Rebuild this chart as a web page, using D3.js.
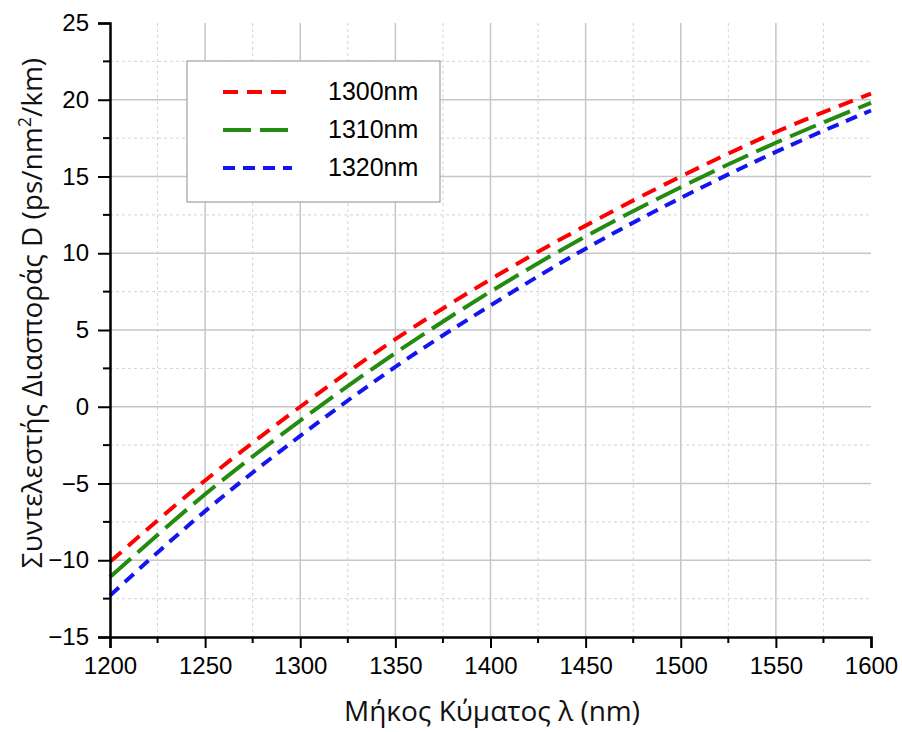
<html>
<head>
<meta charset="utf-8">
<style>
body { margin: 0; background: #fff; font-family: 'Liberation Sans', Arial, sans-serif; }
svg { display: block; }
.title { font-family: 'Open Sans', 'Noto Sans', sans-serif; font-size: 28px; fill: #111; }
</style>
</head>
<body>
<svg width="902" height="732"></svg>
<script src="https://d3js.org/d3.v7.min.js"></script>
<script>
// wavelengths (nm)
var lambda = [1200, 1250, 1300, 1350, 1400, 1450, 1500, 1550, 1600];
// dispersion for each zero-dispersion wavelength (ps/nm^2/km)
var d1300 = [-10.1, -4.8, 0.0, 4.4, 8.3, 11.8, 15.0, 17.9, 20.4];
var d1310 = [-11.1, -5.7, -0.9, 3.5, 7.5, 11.1, 14.3, 17.2, 19.8];
var d1320 = [-12.3, -6.8, -1.9, 2.6, 6.6, 10.3, 13.6, 16.6, 19.3];

var seriesNames = ["1300nm", "1310nm", "1320nm"];
var xTicks = [1200, 1250, 1300, 1350, 1400, 1450, 1500, 1550, 1600];
var yTicks = [-15, -10, -5, 0, 5, 10, 15, 20, 25];

var series = [
	{name: seriesNames[0], values: d1300, color: "#ff0000", dash: "15,9"},
	{name: seriesNames[1], values: d1310, color: "#228b10", dash: "28,9"},
	{name: seriesNames[2], values: d1320, color: "#1414f0", dash: "12,8"}
];

var svg = d3.select("svg");
var plotL = 110, plotR = 871, plotT = 23, plotB = 637;

var x = d3.scaleLinear().domain([1200, 1600]).range([plotL, plotR]);
var y = d3.scaleLinear().domain([-15, 25]).range([plotB, plotT]);

// grid: minor dashed, major solid
var minorX = d3.range(1225, 1600, 50);
var minorY = d3.range(-12.5, 25, 5);
var grid = svg.append("g");
grid.selectAll(".mx").data(minorX).enter().append("line")
	.attr("x1", d => x(d)).attr("x2", d => x(d)).attr("y1", plotT).attr("y2", plotB)
	.attr("stroke", "#d4d4d4").attr("stroke-dasharray", "3,3");
grid.selectAll(".my").data(minorY).enter().append("line")
	.attr("x1", plotL).attr("x2", plotR).attr("y1", d => y(d)).attr("y2", d => y(d))
	.attr("stroke", "#d4d4d4").attr("stroke-dasharray", "3,3");
grid.selectAll(".gx").data(xTicks.slice(1, -1)).enter().append("line")
	.attr("x1", d => x(d)).attr("x2", d => x(d)).attr("y1", plotT).attr("y2", plotB)
	.attr("stroke", "#c6c6c6").attr("stroke-width", 1.5);
grid.selectAll(".gy").data(yTicks.slice(1, -1)).enter().append("line")
	.attr("x1", plotL).attr("x2", plotR).attr("y1", d => y(d)).attr("y2", d => y(d))
	.attr("stroke", "#c6c6c6").attr("stroke-width", 1.5);

// curves
var line = d3.line()
	.x((d, i) => x(lambda[i]))
	.y(d => y(d))
	.curve(d3.curveMonotoneX);

svg.append("g").selectAll("path").data(series).enter().append("path")
	.attr("d", d => line(d.values))
	.attr("fill", "none")
	.attr("stroke", d => d.color)
	.attr("stroke-width", 4)
	.attr("stroke-dasharray", d => d.dash);

// axes
var xAxis = svg.append("g").attr("transform", "translate(0," + plotB + ")")
	.call(d3.axisBottom(x).tickValues(xTicks).tickFormat(d3.format("d")).tickSize(11).tickPadding(9));
var yAxis = svg.append("g").attr("transform", "translate(" + plotL + ",0)")
	.call(d3.axisLeft(y).tickValues(yTicks).tickSize(12).tickPadding(9));

// minor ticks
xAxis.selectAll(".minor").data(minorX).enter().append("line")
	.attr("x1", d => x(d)).attr("x2", d => x(d)).attr("y1", 0).attr("y2", 6)
	.attr("stroke", "#000").attr("stroke-width", 2);
yAxis.selectAll(".minor").data(minorY).enter().append("line")
	.attr("y1", d => y(d)).attr("y2", d => y(d)).attr("x1", 0).attr("x2", -7)
	.attr("stroke", "#000").attr("stroke-width", 2);

svg.selectAll(".domain").attr("stroke", "#000").attr("stroke-width", 2.5);
svg.selectAll(".tick line").attr("stroke", "#000").attr("stroke-width", 2);
svg.selectAll(".tick text").style("font-size", "24px").style("fill", "#000")
	.style("font-family", "'Liberation Sans', Arial, sans-serif");

// titles
svg.append("text").attr("class", "title")
	.attr("x", 492).attr("y", 721).attr("text-anchor", "middle")
	.text("Μήκος Κύματος λ (nm)");

var yt = svg.append("text").attr("class", "title")
	.attr("transform", "translate(42,313) rotate(-90)")
	.attr("text-anchor", "middle");
yt.append("tspan").text("Συντελεστής Διασποράς D (ps/nm");
yt.append("tspan").attr("dy", -11).attr("font-size", "18px").text("2");
yt.append("tspan").attr("dy", 11).text("/km)");

// legend
var legend = svg.append("g");
legend.append("rect")
	.attr("x", 187).attr("y", 61).attr("width", 253).attr("height", 141)
	.attr("fill", "#fff").attr("stroke", "#a0a0a0").attr("stroke-width", 1.2);
var rows = legend.selectAll(".row").data(series).enter().append("g")
	.attr("transform", (d, i) => "translate(0," + (92 + i * 38) + ")");
rows.append("line")
	.attr("x1", 223).attr("x2", 292).attr("y1", 0).attr("y2", 0)
	.attr("stroke", d => d.color).attr("stroke-width", 4)
	.attr("stroke-dasharray", d => d.dash);
rows.append("text")
	.attr("x", 328).attr("y", 8)
	.style("font-family", "'Liberation Sans', Arial, sans-serif").style("font-size", "25px")
	.text(d => d.name);
</script>
</body>
</html>
